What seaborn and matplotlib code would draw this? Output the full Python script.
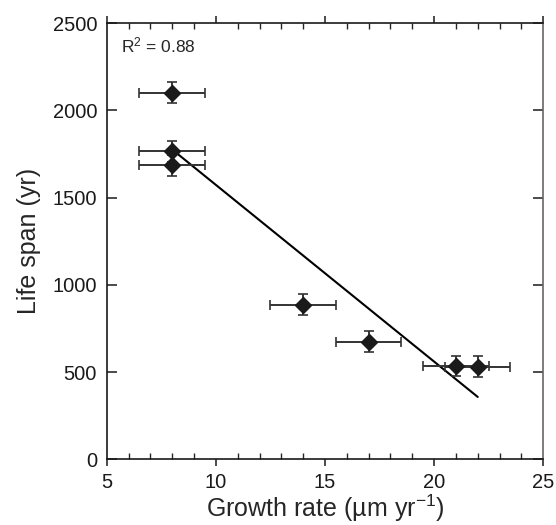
import matplotlib

matplotlib.use("Agg")

import matplotlib.pyplot as plt  # noqa: E402
import pandas as pd  # noqa: E402
import seaborn as sns  # noqa: E402
from matplotlib.ticker import MultipleLocator  # noqa: E402

# values
growth = [8, 8, 8, 14, 17, 21, 22]
lifespan = [2100, 1765, 1685, 885, 675, 535, 530]
growth_err = [1.5, 1.5, 1.5, 1.5, 1.5, 1.5, 1.5]
lifespan_err = [60, 60, 60, 60, 60, 60, 60]
r2_label = "R$^2$ = 0.88"

df = pd.DataFrame({"growth": growth, "lifespan": lifespan})

sns.set_style("ticks")
plt.rcParams["font.family"] = ["Liberation Sans", "DejaVu Sans"]
plt.rcParams["mathtext.fontset"] = "custom"
plt.rcParams["mathtext.rm"] = "Liberation Sans"
plt.rcParams["mathtext.it"] = "Liberation Sans:italic"

fig = plt.figure(figsize=(5.56, 5.25), dpi=100)
ax = fig.add_axes([0.192, 0.125, 0.785, 0.831])

ax.errorbar(growth, lifespan, xerr=growth_err, yerr=lifespan_err, fmt="D",
            color="#1a1a1a", ecolor="#333333", elinewidth=1.4, capsize=3.5,
            capthick=1.2, markersize=8, zorder=3)
sns.regplot(data=df, x="growth", y="lifespan", ax=ax, ci=None, scatter=False,
            line_kws={"color": "black", "lw": 1.5, "zorder": 2})

ax.text(5.65, 2330, r2_label, fontsize=12.5, va="baseline")

ax.set_xlim(5, 25)
ax.set_ylim(0, 2500)
ax.xaxis.set_major_locator(MultipleLocator(5))
ax.xaxis.set_minor_locator(MultipleLocator(1))
ax.yaxis.set_major_locator(MultipleLocator(500))

ax.set_xlabel("Growth rate (µm yr$^{-1}$)", fontsize=18, labelpad=0)
ax.set_ylabel("Life span (yr)", fontsize=18, labelpad=8)

for side in ["left", "bottom", "top", "right"]:
    ax.spines[side].set_linewidth(1.2)
    ax.spines[side].set_color("#1a1a1a")
ax.spines["right"].set_color("#666666")

ax.tick_params(axis="x", which="major", direction="out", length=5, width=1.1,
               top=True, labelsize=14.5, pad=5, colors="#1a1a1a")
ax.tick_params(axis="x", which="minor", direction="in", length=4, width=1.0, top=True)
ax.tick_params(axis="y", which="major", direction="in", length=7, width=1.1,
               right=True, labelsize=14.5, pad=7, colors="#1a1a1a")
ax.tick_params(axis="y", which="minor", left=False, right=False)

fig.savefig("out.png", dpi=100)
